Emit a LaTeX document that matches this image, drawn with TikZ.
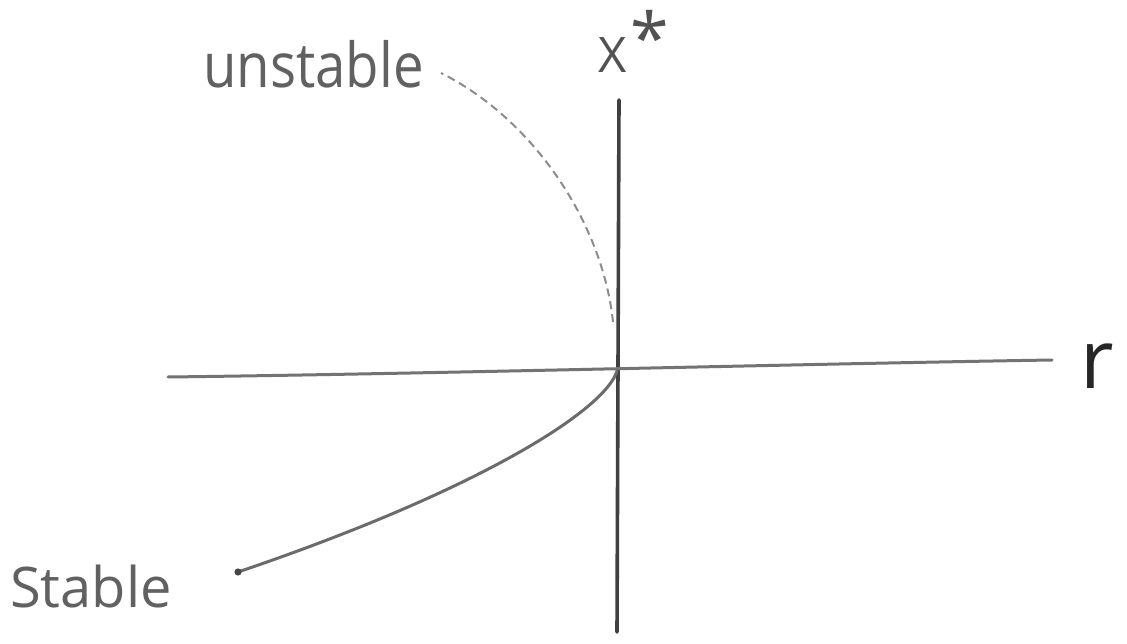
\documentclass[tikz,border=0pt]{standalone}
\usepackage{fontspec}
\setmainfont{Open Sans}
\usepackage{graphicx}
\begin{document}
\begin{tikzpicture}[x=1pt,y=-1pt,
  vaxis/.style={draw=black!75, line width=3.6pt, line cap=round},
  haxis/.style={draw=black!55, line width=3pt, line cap=round},
  stablecurve/.style={draw=black!58, line width=3pt, line cap=round},
  unstablecurve/.style={draw=black!45, line width=2pt, dash pattern=on 8pt off 5pt},
  handlabel/.style={inner sep=0pt, anchor=base west, text=black!62}]
\useasboundingbox (0,0) rectangle (1127,644);
\fill[white] (0,0) rectangle (1127,644);
% axes
\coordinate (vtop) at (619,100);
\coordinate (vbot) at (617,632);
\coordinate (hl) at (168,377);
\coordinate (hr) at (1052,360);
\coordinate (O) at (617,371);
\draw[vaxis] (vtop) -- (vbot);
\draw[haxis] (hl) .. controls (420,374) and (800,364) .. (hr);
% stable branch
\coordinate (sdot) at (238,572);
\draw[stablecurve] (O) .. controls (605,410) and (480,490) .. (sdot);
\fill[black!72] (sdot) circle (3.6pt);
% unstable branch
\coordinate (ustart) at (613,322);
\coordinate (uend) at (441,73);
\draw[unstablecurve] (ustart) .. controls (603,225) and (535,120) .. (uend);
% labels
\node[handlabel, font=\fontsize{62}{62}\selectfont] (unst) at (203,88) {\scalebox{0.88}[1]{unstable}};
\node[handlabel, font=\fontsize{56}{56}\selectfont] (stab) at (10,607) {Stable};
\node[handlabel, font=\fontsize{49}{49}\selectfont, text=black!68] (xstar) at (598,73) {X\hspace{4pt}\raisebox{9pt}{\fontsize{70}{70}\selectfont *}};
\node[handlabel, font=\fontsize{82}{82}\selectfont, text=black!85] (rlab) at (1080,388) {r};
\end{tikzpicture}
\end{document}
